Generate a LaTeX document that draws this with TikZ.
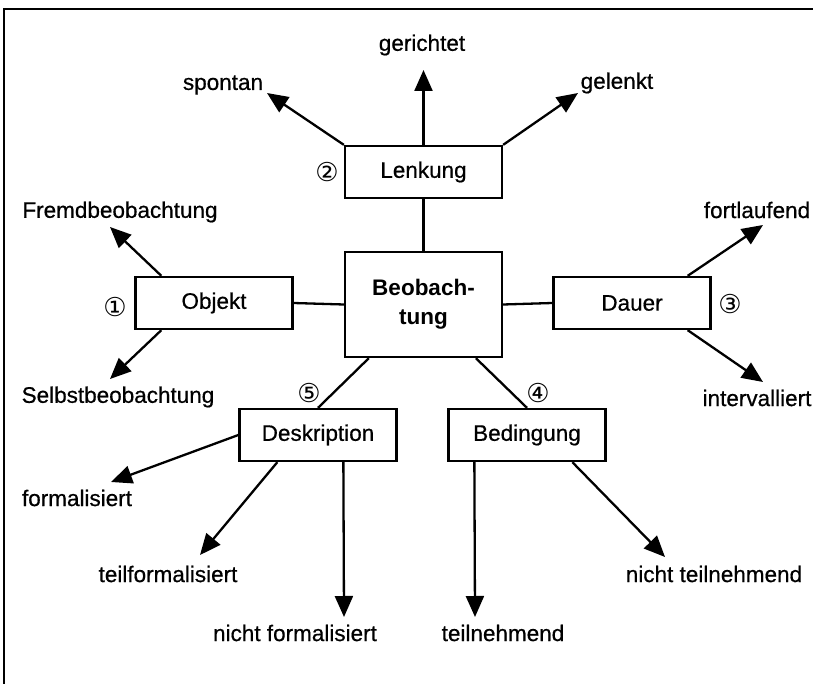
\documentclass[tikz,border=0pt]{standalone}
\usepackage{fontspec}
\setmainfont{Liberation Sans}
\newfontfamily\labfont[FakeBold=0.6]{Liberation Sans}
\newfontfamily\circfont{DejaVu Sans}
\usetikzlibrary{arrows.meta,calc}
\tikzset{
  box/.style={draw,line width=2.3pt,minimum width=157pt,minimum height=52pt,inner sep=0pt,font=\labfont\fontsize{22.5}{24}\selectfont},
  lbl/.style={inner sep=0pt,font=\labfont\fontsize{22.5}{24}\selectfont},
  num/.style={inner sep=0pt,font=\circfont\fontsize{26}{28}\selectfont},
  conn/.style={line width=2.3pt},
  arr/.style={line width=2.3pt,-{Triangle[length=21pt,width=18pt]}}
}
\begin{document}
\begin{tikzpicture}[x=1pt,y=-1pt]
\useasboundingbox (0,0) rectangle (813,684);
\draw[line width=2pt] (4,684) -- (4,9) -- (813,9);
% boxes
\node[box,minimum height=105pt,font=\bfseries\fontsize{22.5}{29}\selectfont,align=center] (beob) at (423.5,304.5) {Beobach-\\tung};
\node[box] (lenk) at (423.5,172) {Lenkung};
\node[box] (objekt) at (214,303) {Objekt};
\node[box] (dauer) at (632,303) {Dauer};
\node[box] (deskr) at (318,435) {Deskription};
\node[box] (beding) at (527,435) {Bedingung};
% numbers
\node[num] (n1) at (115,307) {①};
\node[num] (n2) at (327,172) {②};
\node[num] (n3) at (730,304) {③};
\node[num] (n4) at (538,393) {④};
\node[num] (n5) at (309,393) {⑤};
% labels
\node[lbl] (gerichtet) at (422,45) {gerichtet};
\node[lbl] (spontan) at (223,85) {spontan};
\node[lbl] (gelenkt) at (617,83) {gelenkt};
\node[lbl] (fremd) at (120,212) {Fremdbeobachtung};
\node[lbl] (selbst) at (118,397) {Selbstbeobachtung};
\node[lbl] (fortl) at (757,210) {fortlaufend};
\node[lbl] (interv) at (757,398) {intervalliert};
\node[lbl] (formal) at (77,498) {formalisiert};
\node[lbl] (teilf) at (168,574) {teilformalisiert};
\node[lbl] (nichtf) at (295,633) {nicht formalisiert};
\node[lbl] (teiln) at (503,633) {teilnehmend};
\node[lbl] (nichtt) at (714,574) {nicht teilnehmend};
% arrow tips
\coordinate (tGer) at (423.5,70);
\coordinate (tSpo) at (267,93);
\coordinate (tGel) at (578,93);
\coordinate (tFre) at (110,227);
\coordinate (tSel) at (110,379);
\coordinate (tFor) at (763,225);
\coordinate (tInt) at (763,382);
\coordinate (tFml) at (111,482);
\coordinate (tTfm) at (200,555);
\coordinate (tNfm) at (344,617);
\coordinate (tTln) at (475,617);
\coordinate (tNtl) at (665,557);
% starts
\coordinate (sFre) at ($(objekt.north west)+(27,0)$);
\coordinate (sSel) at ($(objekt.south west)+(27,0)$);
\coordinate (sFor) at ($(dauer.north east)+(-24,0)$);
\coordinate (sInt) at ($(dauer.south east)+(-24,0)$);
\coordinate (sTfm) at ($(deskr.south west)+(39,0)$);
\coordinate (sNfm) at ($(deskr.south west)+(105,0)$);
\coordinate (sTln) at ($(beding.south west)+(27,0)$);
\coordinate (sNtl) at ($(beding.south west)+(125,0)$);
\coordinate (bL) at ($(beob.south west)+(25,0)$);
\coordinate (bR) at ($(beob.south west)+(132,0)$);
% connectors
\draw[conn] (lenk.south) -- (beob.north);
\draw[conn] (objekt.east) -- (beob.west);
\draw[conn] (beob.east) -- (dauer.west);
\draw[conn] (bL) -- (deskr.north);
\draw[conn] (bR) -- (beding.north);
% arrows
\draw[arr] (lenk.north) -- (tGer);
\draw[arr] (lenk.north west) -- (tSpo);
\draw[arr] (lenk.north east) -- (tGel);
\draw[arr] (sFre) -- (tFre);
\draw[arr] (sSel) -- (tSel);
\draw[arr] (sFor) -- (tFor);
\draw[arr] (sInt) -- (tInt);
\draw[arr] (deskr.west) -- (tFml);
\draw[arr] (sTfm) -- (tTfm);
\draw[arr] (sNfm) -- (tNfm);
\draw[arr] (sTln) -- (tTln);
\draw[arr] (sNtl) -- (tNtl);
\end{tikzpicture}
\end{document}
